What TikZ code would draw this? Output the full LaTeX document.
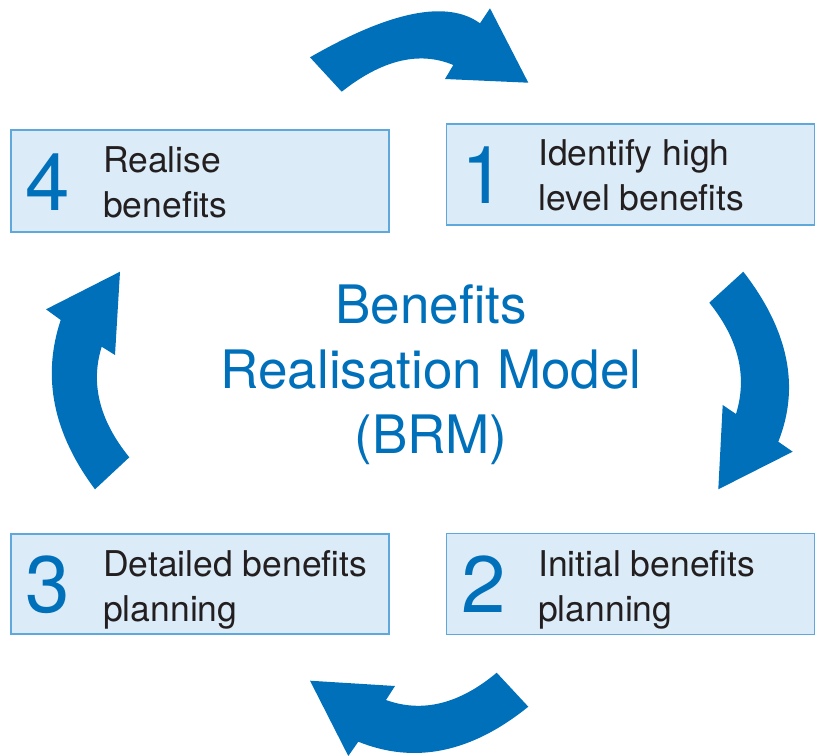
\documentclass[tikz,border=0pt]{standalone}
\usepackage{fontspec}
\setmainfont{TeX Gyre Heros}
\definecolor{brmblue}{HTML}{0070BA}
\definecolor{boxfill}{HTML}{DBEBF7}
\definecolor{boxline}{HTML}{5FA8DC}
\definecolor{txt}{HTML}{231F20}
\begin{document}
\begin{tikzpicture}[x=1pt,y=-1pt,
  stagebox/.style={draw=boxline, fill=boxfill, line width=1.5pt, inner sep=0pt},
  num/.style={font=\fontsize{80}{80}\selectfont, text=brmblue, anchor=base, inner sep=0pt},
  lbl/.style={font=\fontsize{35.5}{45}\selectfont, text=txt, anchor=base west, inner sep=0pt},
  titletext/.style={font=\fontsize{53}{65}\selectfont, text=brmblue, anchor=base, inner sep=0pt},
  bigarrow/.style={fill=brmblue}]
\useasboundingbox (0,0) rectangle (815,756);
% boxes
\node[stagebox, minimum width=378pt, minimum height=102pt] (b4) at (200,181) {};
\node[stagebox, minimum width=368pt, minimum height=101pt] (b1) at (630.5,174.5) {};
\node[stagebox, minimum width=368pt, minimum height=101pt] (b2) at (630.5,584) {};
\node[stagebox, minimum width=378pt, minimum height=100pt] (b3) at (200,584) {};
% numbers
\node[num] (n4) at (48,210) {4};
\node[num] (n1) at (484,203) {1};
\node[num] (n2) at (484,612) {2};
\node[num] (n3) at (48,612) {3};
% labels
\node[lbl] (t4) at (103,172) {\vtop{\hbox{Realise}\hbox{benefits}}};
\node[lbl] (t1) at (538,165) {\vtop{\hbox{Identify high}\hbox{level benefits}}};
\node[lbl] (t2) at (538,576) {\vtop{\hbox{Initial benefits}\hbox{planning}}};
\node[lbl] (t3) at (103,576) {\vtop{\hbox{Detailed benefits}\hbox{planning}}};
% title
\node[titletext] (title) at (431,323) {\vtop{\halign{\hfil#\hfil\cr Benefits\cr Realisation Model\cr (BRM)\cr}}};
% arrows
\fill[bigarrow] (310,57.3) .. controls (390.7,10.9) and (447.3,-0.4) .. (480,23.3) -- (490,8.3) -- (528.3,82.7) -- (445,79) -- (453.3,65) .. controls (419.4,50.8) and (382.2,59.7) .. (341.7,91.7) -- cycle;
\fill[bigarrow] (743.3,271.7) .. controls (788.6,330.1) and (800.2,386.8) .. (778.3,441.7) -- (792.7,451.7) -- (718.3,489.3) -- (722.7,405) -- (736,414) .. controls (747.6,376.4) and (738.7,339.3) .. (709.3,302.7) -- cycle;
\fill[bigarrow] (528.3,706.7) .. controls (471.2,752.8) and (414.6,764.4) .. (358.3,741.7) -- (348.3,756) -- (310,680.7) -- (395,686) -- (386,700) .. controls (422.4,713.1) and (459.3,704) .. (496.7,672.7) -- cycle;
\fill[bigarrow] (95,489.3) .. controls (53.1,433.3) and (41.7,376.9) .. (60.7,320) -- (46,309.3) -- (120,271.7) -- (115,355) -- (101.7,346.7) .. controls (90.2,383.6) and (99.4,420.4) .. (129.3,457.3) -- cycle;
\end{tikzpicture}
\end{document}
